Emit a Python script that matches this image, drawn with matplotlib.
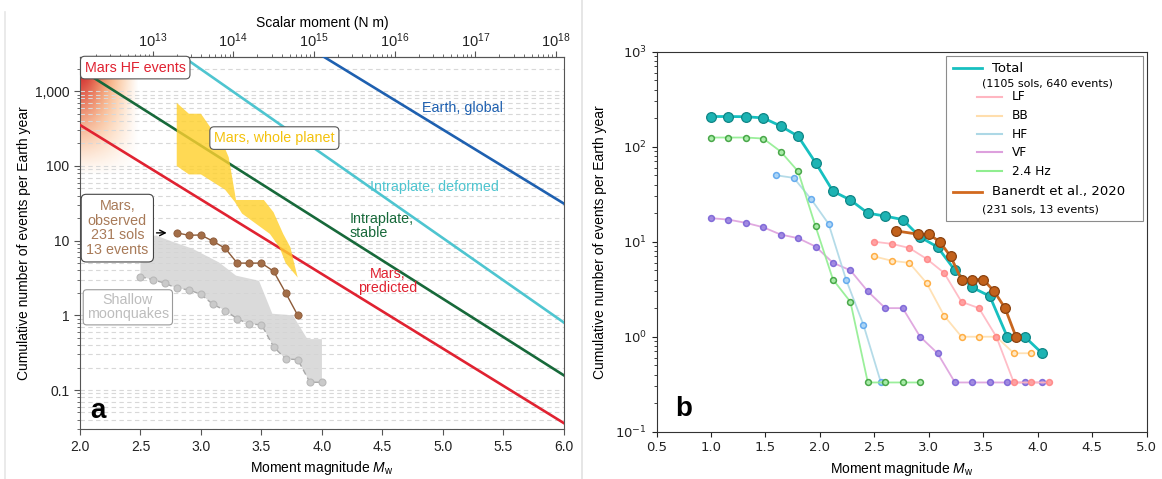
import numpy as np
import matplotlib
matplotlib.use("Agg")
import matplotlib.pyplot as plt
from matplotlib.patches import Polygon, Rectangle
from matplotlib.lines import Line2D
from matplotlib.ticker import NullFormatter

plt.rcParams["font.family"] = ["Liberation Sans", "DejaVu Sans"]
plt.rcParams["mathtext.rm"] = "Liberation Sans"
plt.rcParams["mathtext.it"] = "Liberation Sans:italic"
plt.rcParams["mathtext.bf"] = "Liberation Sans:bold"

# ---- panel a data ----
# Gutenberg-Richter lines: (Mw, N) at both ends
gr_labels = ["Mars, predicted", "Intraplate, stable", "Intraplate, deformed", "Earth, global"]
gr_colors = ["#E02231", "#17693A", "#4EC5D0", "#1E60B0"]
gr_mw_start = [2.0, 2.0, 2.80, 3.95]
gr_n_start = [354, 1980, 3320, 3360]
gr_mw_end = [6.0, 6.0, 6.0, 6.0]
gr_n_end = [0.036, 0.157, 0.80, 31.3]

# Mars, whole planet (outline of the yellow band)
whole_mw = [2.80, 2.90, 3.00, 3.20, 3.23, 3.29, 3.52, 3.60, 3.68, 3.74, 3.77, 3.80,
            3.70, 3.65, 3.57, 3.34, 3.28, 3.20, 3.00, 2.90, 2.80]
whole_n = [700, 500, 500, 170, 130, 35, 35, 24, 12.3, 8.1, 5.0, 3.2,
           5.0, 8.1, 12.3, 23, 33, 48, 77, 77, 100]

# Mars observed (231 sols, 13 events)
obs_mw = [2.8, 2.9, 3.0, 3.1, 3.2, 3.3, 3.4, 3.5, 3.6, 3.7, 3.8]
obs_n = [12.7, 11.8, 11.9, 9.8, 7.9, 5.0, 5.0, 5.0, 3.9, 2.0, 1.0]

# shallow moonquakes
moon_mw = [2.5, 2.6, 2.7, 2.8, 2.9, 3.0, 3.1, 3.2, 3.3, 3.4, 3.5, 3.6, 3.7, 3.8, 3.9, 4.0]
moon_n = [3.3, 3.0, 2.7, 2.3, 2.2, 1.9, 1.4, 1.16, 0.90, 0.76, 0.75, 0.38, 0.26, 0.256, 0.127, 0.127]
moon_upper_mw = [2.50, 2.63, 2.74, 2.93, 3.15, 3.29, 3.48, 3.59, 3.76, 3.88, 4.00]
moon_upper_n = [11.1, 11.7, 10.0, 7.8, 5.1, 3.4, 2.9, 1.05, 1.0, 0.48, 0.48]

# ---- panel b data ----
mw_total = [1.00, 1.16, 1.32, 1.48, 1.64, 1.80, 1.96, 2.12, 2.28, 2.44,
            2.60, 2.76, 2.92, 3.08, 3.24, 3.40, 3.56, 3.72, 3.88, 4.04]
n_total = [208, 208, 207, 201, 165, 129, 68, 34, 27.5, 20,
           18.6, 17.1, 11.2, 8.8, 5.0, 3.3, 2.67, 1.0, 1.0, 0.67]
mw_lf = [2.50, 2.66, 2.82, 2.98, 3.14, 3.30, 3.46, 3.62, 3.78, 3.94, 4.10]
n_lf = [10, 9.5, 8.6, 6.6, 4.7, 2.33, 2.0, 1.0, 0.33, 0.33, 0.33]
mw_bb = [2.50, 2.66, 2.82, 2.98, 3.14, 3.30, 3.46, 3.62, 3.78, 3.94]
n_bb = [7.0, 6.3, 6.0, 3.67, 1.67, 1.0, 1.0, 1.0, 0.67, 0.67]
mw_hf = [1.60, 1.76, 1.92, 2.08, 2.24, 2.40, 2.56]
n_hf = [50, 47, 28, 15.4, 4.0, 1.33, 0.33]
mw_vf = mw_total
n_vf = [17.7, 17.1, 15.8, 14.2, 11.9, 10.9, 8.9, 6.0, 5.0, 3.0,
        2.0, 2.0, 1.0, 0.67, 0.33, 0.33, 0.33, 0.33, 0.33, 0.33]
mw_24 = [1.00, 1.16, 1.32, 1.48, 1.64, 1.80, 1.96, 2.12, 2.28, 2.44, 2.60, 2.76, 2.92]
n_24 = [125, 125, 125, 122, 89, 55, 14.5, 4.0, 2.33, 0.33, 0.33, 0.33, 0.33]
mw_ban = [2.7, 2.9, 3.0, 3.1, 3.2, 3.3, 3.4, 3.5, 3.6, 3.7, 3.8]
n_ban = [13, 12, 12, 10, 7, 4, 4, 4, 3, 2, 1]

sub_names = ["LF", "BB", "HF", "VF", "2.4 Hz"]
sub_mw = [mw_lf, mw_bb, mw_hf, mw_vf, mw_24]
sub_n = [n_lf, n_bb, n_hf, n_vf, n_24]
sub_line = ["#FFB6C1", "#FFDEAD", "#ADD8E6", "#DDA0DD", "#90EE90"]
sub_face = ["#FF9C9C", "#FFE8C4", "#A9D3F5", "#9A84E0", "#A6EBA6"]
sub_edge = ["#FF8585", "#FFA733", "#5AA5EE", "#7A62D6", "#3A9F3A"]

fig = plt.figure(figsize=(11.62, 4.79), dpi=100)
ax_a = fig.add_axes([0.0688, 0.1038, 0.4165, 0.7778])
ax_b = fig.add_axes([0.565, 0.0987, 0.4218, 0.7933])

fig.add_artist(Line2D([582 / 1162] * 2, [0, 1], color="#E2E2E2", lw=1.2))
fig.add_artist(Line2D([5 / 1162] * 2, [0, 0.975], color="#E6E6E6", lw=1.2))

# ================= panel a =================
ax = ax_a
ax.set_yscale("log")
ax.set_axisbelow(True)
ax.yaxis.grid(True, which="both", ls=(0, (4, 3)), color="#D8D8D8", lw=0.8)

# Mars HF events colour blob
nx, ny = 120, 160
u = np.linspace(0, 1, nx)[None, :]
v = np.linspace(0, 1, ny)[:, None]
red = np.array([0.80, 0.07, 0.10])
orange = np.array([0.97, 0.50, 0.10])
w = np.exp(-(u / 0.42) ** 2 - (v / 0.55) ** 2)
rgb = w[..., None] * red + (1 - w[..., None]) * orange
alpha = np.clip(1 - u ** 1.6, 0, 1) ** 1.2 * np.clip(1 - v ** 1.3, 0, 1) ** 1.1
ax.imshow(np.dstack([rgb, alpha]), extent=(0, 0.12, 0.68, 1.0), transform=ax.transAxes,
          aspect="auto", interpolation="bilinear", zorder=0.4)

# moonquake shaded range
poly_mw = moon_upper_mw + moon_mw[::-1]
poly_n = moon_upper_n + moon_n[::-1]
ax.add_patch(Polygon(np.column_stack([poly_mw, poly_n]), closed=True,
                     fc="#D4D4D4", ec="none", alpha=0.85, zorder=2))

for x0, y0, x1, y1, c in zip(gr_mw_start, gr_n_start, gr_mw_end, gr_n_end, gr_colors):
    ax.plot([x0, x1], [y0, y1], color=c, lw=1.9, zorder=3)

ax.add_patch(Polygon(np.column_stack([whole_mw, whole_n]), closed=True,
                     fc="#FFD12E", ec="none", alpha=0.82, zorder=4))

ax.plot(moon_mw, moon_n, color="#A8A8A8", lw=1.0, ls=(0, (4, 2.5)), marker="o", ms=5,
        mfc="#CACACA", mec="#B8B8B8", mew=0.8, zorder=5)
ax.plot(obs_mw, obs_n, color="#8C5A38", lw=1.0, marker="o", ms=5.2,
        mfc="#A36E48", mec="#8C5A38", mew=0.6, zorder=6)

lab_kw = dict(fontsize=10.3, zorder=8)
box = dict(boxstyle="round,pad=0.3", fc="white", ec="#555555", lw=0.8)
ax.text(2.457, 2075, "Mars HF events", color="#E02231", ha="center", va="center",
        bbox=box, **lab_kw)
ax.text(5.16, 600, "Earth, global", color="#1E60B0", ha="center", va="center", **lab_kw)
ax.text(3.607, 236, "Mars, whole planet", color="#F4C20D", ha="center", va="center",
        bbox=box, **lab_kw)
ax.text(4.933, 52, "Intraplate, deformed", color="#4EC5D0", ha="center", va="center", **lab_kw)
ax.text(4.23, 15.9, "Intraplate,\nstable", color="#17693A", ha="left", va="center",
        linespacing=1.0, **lab_kw)
ax.text(4.54, 2.86, "Mars,\npredicted", color="#E02231", ha="center", va="center",
        linespacing=1.0, **lab_kw)
ax.text(2.309, 14.7, "Mars,\nobserved\n231 sols\n13 events", color="#A87A58",
        ha="center", va="center", linespacing=1.05,
        bbox=dict(boxstyle="round,pad=0.35", fc="white", ec="#444444", lw=0.8), **lab_kw)
ax.text(2.396, 1.28, "Shallow\nmoonquakes", color="#BDBDBD", ha="center", va="center",
        linespacing=1.0,
        bbox=dict(boxstyle="round,pad=0.25", fc="white", ec="#9A9A9A", lw=0.8), **lab_kw)
ax.annotate("", xy=(2.74, obs_n[0]), xytext=(2.61, obs_n[0]),
            arrowprops=dict(arrowstyle="->", color="black", lw=1.0), zorder=8)
ax.text(0.038, 0.05, "a", transform=ax.transAxes, fontsize=20, fontweight="bold",
        ha="center", va="center")

ax.set_xlim(2.0, 6.0)
ax.set_ylim(0.0298, 2900)
ax.set_xticks(np.arange(2.0, 6.01, 0.5))
ax.set_yticks([0.1, 1, 10, 100, 1000], ["0.1", "1", "10", "100", "1,000"])
ax.yaxis.set_minor_formatter(NullFormatter())
ax.tick_params(which="both", colors="#555555", labelcolor="#222222", labelsize=10)
ax.tick_params(which="major", length=4)
ax.tick_params(which="minor", length=2.5)
for s in ax.spines.values():
    s.set_color("#555555")
ax.set_xlabel("Moment magnitude $M_\\mathrm{w}$", fontsize=10, math_fontfamily="custom")
ax.set_ylabel("Cumulative number of events per Earth year", fontsize=10, labelpad=3)

sec = ax.secondary_xaxis("top", functions=(lambda m: 1.5 * m + 9.1, lambda l: (l - 9.1) / 1.5))
sec.set_xticks([13, 14, 15, 16, 17, 18],
               ["$10^{%d}$" % k for k in range(13, 19)], math_fontfamily="custom")
minor_locs = [np.log10(k * 10.0 ** n) for n in range(12, 18) for k in range(2, 10)]
sec.set_xticks([m for m in minor_locs if 12.1 < m < 18.1], minor=True)
sec.tick_params(which="both", colors="#555555", labelcolor="#222222", labelsize=10.5, pad=1)
sec.tick_params(which="major", length=4)
sec.tick_params(which="minor", length=2.5)
sec.spines["top"].set_color("#555555")
sec.set_xlabel("Scalar moment (N m)", fontsize=10, labelpad=3)

# ================= panel b =================
ax = ax_b
ax.set_yscale("log")
for i in [3, 2, 4, 1, 0]:
    ax.plot(sub_mw[i], sub_n[i], color=sub_line[i], lw=1.3, marker="o", ms=4.2,
            mfc=sub_face[i], mec=sub_edge[i], mew=1.1, alpha=0.9, zorder=3)
ax.plot(mw_total, n_total, color="#17C0C0", lw=2.0, marker="o", ms=7,
        mfc="#1DB3B3", mec="#0F8686", mew=0.9, zorder=4)
ax.plot(mw_ban, n_ban, color="#C8661E", lw=2.0, marker="o", ms=7,
        mfc="#C2611B", mec="#8A4210", mew=0.9, zorder=5)

# legend drawn by hand
ax.add_patch(Rectangle((0.590, 0.555), 0.402, 0.4337, transform=ax.transAxes,
                       fc="white", ec="#8C8C8C", lw=0.8, zorder=6))
leg_kw = dict(transform=ax.transAxes, family="DejaVu Sans", va="center", zorder=7)
ax.plot([0.6055, 0.6634], [0.9563, 0.9563], transform=ax.transAxes, color="#17C0C0",
        lw=2.0, zorder=7)
ax.text(0.6838, 0.9563, "Total", fontsize=9.5, **leg_kw)
ax.text(0.6634, 0.9168, "(1105 sols, 640 events)", fontsize=8, **leg_kw)
sub_y = [0.8816, 0.8316, 0.7826, 0.7353, 0.6861]
for name, yy, c in zip(sub_names, sub_y, sub_line):
    ax.plot([0.6532, 0.7042], [yy, yy], transform=ax.transAxes, color=c, lw=1.5, zorder=7)
    ax.text(0.7246, yy, name, fontsize=8.7, **leg_kw)
ax.plot([0.6055, 0.6634], [0.6316, 0.6316], transform=ax.transAxes, color="#D2691E",
        lw=2.0, zorder=7)
ax.text(0.6838, 0.6316, "Banerdt et al., 2020", fontsize=9.5, **leg_kw)
ax.text(0.6634, 0.5853, "(231 sols, 13 events)", fontsize=8, **leg_kw)

ax.text(0.056, 0.06, "b", transform=ax.transAxes, fontsize=20, fontweight="bold",
        ha="center", va="center")

ax.set_xlim(0.5, 5.0)
ax.set_ylim(0.1, 1000)
ax.set_xticks(np.arange(0.5, 5.01, 0.5))
ax.tick_params(which="both", labelsize=9.5, labelfontfamily="DejaVu Sans", colors="#222222")
for s in ax.spines.values():
    s.set_color("#333333")
ax.set_xlabel("Moment magnitude $M_\\mathrm{w}$", fontsize=10, math_fontfamily="custom")
ax.set_ylabel("Cumulative number of events per Earth year", fontsize=10, labelpad=6)

fig.savefig("out.png", dpi=100)
